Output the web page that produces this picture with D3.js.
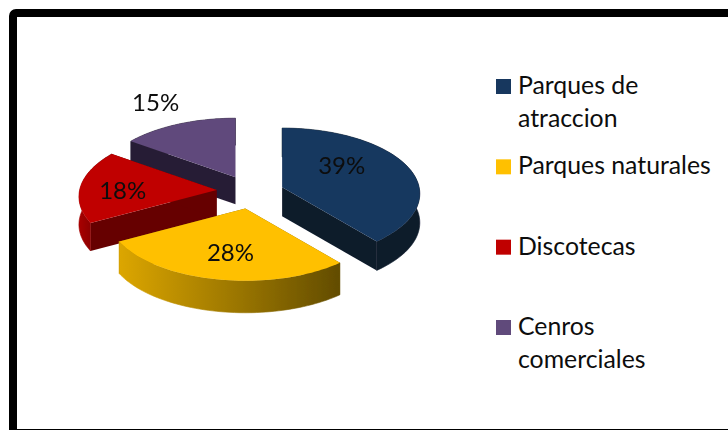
<!DOCTYPE html>
<html>
<head>
<meta charset="utf-8">
<script src="https://cdn.jsdelivr.net/npm/d3@7"></script>
<style>
  html, body { margin: 0; padding: 0; background: #fff; overflow: hidden; }
  text { font-family: Lato, "Open Sans", sans-serif; fill: #0d0d0d; }
</style>
</head>
<body>
<svg width="728" height="430"></svg>
<script>
// values
const categories = ['Parques de atraccion', 'Parques naturales', 'Discotecas', 'Cenros comerciales']
const values = [39, 28, 18, 15]
const legendLines = [['Parques de', 'atraccion'], ['Parques naturales'], ['Discotecas'], ['Cenros', 'comerciales']]

const colors = ['#17375e', '#ffc000', '#c00000', '#604a7b']
const sideColors = ['#0a1a2a', '#7a5c00', '#660000', '#281e36']
const wallLeft = ['#0a1a2a', '#dca600', '#a80000', '#281e36']
const wallRight = ['#0a1a2a', '#624c00', '#5c0000', '#281e36']

// how far each slice is pulled out of the pie and in which direction (degrees)
const explode = [0.254, 0.278, 0.229, 0.22]
const explodeDir = [80, 184, 270, 335]
const depths = [29, 32, 28, 27]
const labelR = [0.47, 0.65, 0.69, 1.45]
const labelDx = [0, 3, 0, 0]
const labelDy = [-11, 0, 3, 0]

const width = 728
const height = 430
const cx = 248, cy = 190
const persp = 0.1

const svg = d3.select('svg')

// frame, runs off the right and bottom of the picture
svg.append('rect')
  .attr('x', 13).attr('y', 13)
  .attr('width', 800).attr('height', 420)
  .attr('rx', 3)
  .attr('fill', '#fff')
  .attr('stroke', '#000')
  .attr('stroke-width', 8)

const defs = svg.append('defs')
const blur = defs.append('filter').attr('id', 'soft')
  .attr('x', '-5%').attr('y', '-5%').attr('width', '110%').attr('height', '110%')
blur.append('feGaussianBlur').attr('stdDeviation', 0.7)

const xScale = d3.scaleLinear().domain([-1, 1]).range([-137, 137])
const yScale = d3.scaleLinear().domain([-1, 1]).range([-65, 65])

// unit pie plane -> screen offset, a bit bigger towards the viewer
function project(angle, r) {
  const X = r * Math.sin(angle)
  const Y = -r * Math.cos(angle)
  const s = 1 / (1 - persp * Y)
  return [xScale(X) * s, yScale(Y) * s]
}

const arcs = d3.pie().sort(null)(values)
const line = d3.line()
const pieG = svg.append('g').attr('filter', 'url(#soft)')
const offsets = arcs.map((d, i) => project(explodeDir[i] * Math.PI / 180, explode[i]))

// back slices first
const order = [3, 0, 2, 1]
order.forEach(i => {
  const d = arcs[i]
  const off = offsets[i]
  const depth = depths[i]
  const g = pieG.append('g').attr('transform', `translate(${cx + off[0]},${cy + off[1]})`)

  const angles = d3.range(0, 61).map(k => d.startAngle + (d.endAngle - d.startAngle) * k / 60)
  const rim = angles.map(a => project(a, 1))

  const gradId = 'wall' + i
  const xs = rim.map(p => p[0])
  const grad = defs.append('linearGradient').attr('id', gradId)
    .attr('gradientUnits', 'userSpaceOnUse')
    .attr('x1', d3.min(xs)).attr('x2', d3.max(xs))
    .attr('y1', 0).attr('y2', 0)
  grad.append('stop').attr('offset', 0).attr('stop-color', wallLeft[i])
  grad.append('stop').attr('offset', 1).attr('stop-color', wallRight[i])

  // cut faces
  ;[rim[0], rim[60]].forEach(p => {
    g.append('path')
      .attr('d', line([[0, 0], p, [p[0], p[1] + depth], [0, depth]]) + 'Z')
      .attr('fill', sideColors[i])
  })

  // outer wall, stroked so no seam shows against the cut face
  const lower = rim.map(p => [p[0], p[1] + depth]).reverse()
  g.append('path')
    .attr('d', line(rim.concat(lower)) + 'Z')
    .attr('fill', `url(#${gradId})`)
    .attr('stroke', `url(#${gradId})`)
    .attr('stroke-width', 0.6)

  // top
  g.append('path')
    .attr('d', line([[0, 0]].concat(rim)) + 'Z')
    .attr('fill', colors[i])
})

// percent labels
arcs.forEach((d, i) => {
  const mid = (d.startAngle + d.endAngle) / 2
  const off = offsets[i]
  const p = project(mid, labelR[i])
  svg.append('text')
    .attr('x', cx + off[0] + p[0] + labelDx[i])
    .attr('y', cy + off[1] + p[1] + labelDy[i])
    .attr('dy', '0.35em')
    .attr('text-anchor', 'middle')
    .attr('font-size', 24)
    .text(d3.format('d')(d.value) + '%')
})

// legend
const legendY = d3.scalePoint().domain(categories).range([79, 320])
const legend = svg.selectAll('.legend').data(categories).enter().append('g')
  .attr('class', 'legend')
  .attr('transform', d => `translate(496,${legendY(d)})`)

legend.append('rect')
  .attr('width', 15).attr('height', 15)
  .attr('fill', (d, i) => colors[i])

legend.each(function (d, i) {
  d3.select(this).selectAll('text').data(legendLines[i]).enter().append('text')
    .attr('x', 22)
    .attr('y', (t, k) => 15 + k * 32.5)
    .attr('font-size', 24.8)
    .text(t => t)
})
</script>
</body>
</html>
